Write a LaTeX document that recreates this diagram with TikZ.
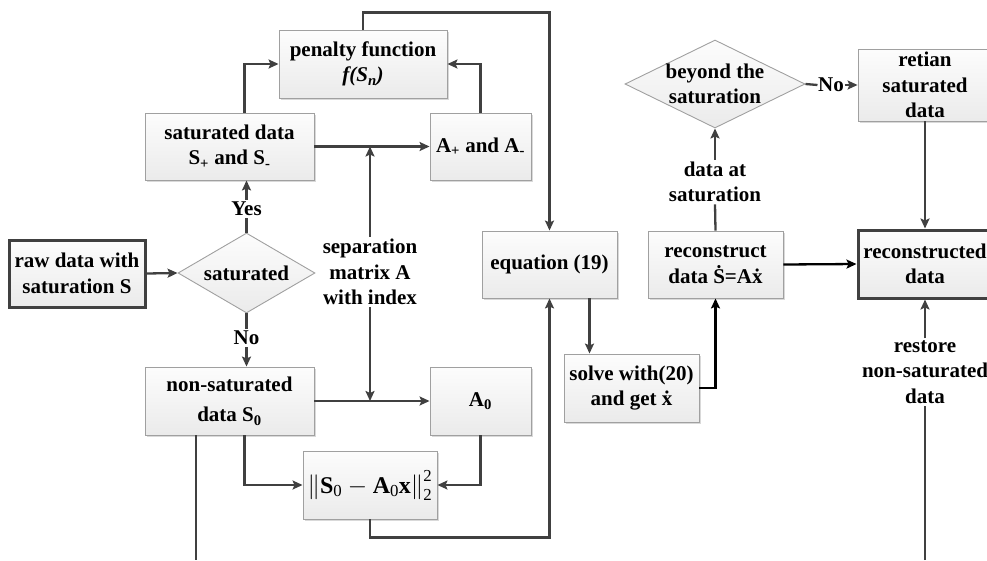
\documentclass[tikz,border=0pt]{standalone}
\usepackage{amsmath}
\usepackage{fontspec}
\setmainfont{Liberation Serif}
\usetikzlibrary{arrows.meta,shapes.geometric,shadows}
\definecolor{lc}{HTML}{404040}
\definecolor{bd}{HTML}{A0A0A0}
\tikzset{
  txt/.style={font=\bfseries\fontsize{21}{25.5}\selectfont, text=black, align=center},
  box/.style={txt, rectangle, draw=bd, line width=0.9pt, top color=gray!2, bottom color=gray!16,
    drop shadow={shadow xshift=1.5pt, shadow yshift=-1.5pt, fill=gray!50, opacity=0.6}, inner sep=2pt},
  tbox/.style={box, draw=lc, line width=3pt},
  dia/.style={diamond, draw=bd, line width=0.9pt, top color=gray!2, bottom color=gray!16, inner sep=0pt},
  lbl/.style={txt, inner sep=2pt},
  wire/.style={draw=lc, line width=2.3pt},
  con/.style={wire, -{Stealth[length=10pt,width=9pt,inset=2pt]}},
  bcon/.style={con, draw=black},
}
\begin{document}
\begin{tikzpicture}[x=1pt,y=-1pt]
\useasboundingbox (0,0) rectangle (987,560);
% boxes
\node[tbox, minimum width=136pt, minimum height=67pt] (raw) at (77,273.5) {raw data with\\saturation S};
\node[dia, minimum width=137pt, minimum height=80pt] (sat) at (246.5,273) {};
\node[txt] at (sat) {saturated};
\node[box, minimum width=169pt, minimum height=67pt] (satdata) at (229.5,146.5) {saturated data\\S\textsubscript{+} and S\textsubscript{-}};
\node[box, minimum width=168pt, minimum height=68pt] (pen) at (363,64) {penalty function\\\textit{f(S\textsubscript{n})}};
\node[box, minimum width=101pt, minimum height=67pt] (apm) at (480.5,146.5) {A\textsubscript{+} and A\textsubscript{-}};
\node[box, minimum width=169pt, minimum height=68pt] (nonsat) at (229.5,401) {non-saturated\\[5pt]data S\textsubscript{0}};
\node[box, minimum width=101pt, minimum height=68pt] (azero) at (480.5,401) {A\textsubscript{0}};
\node[box, minimum width=134pt, minimum height=68pt, font=\bfseries\fontsize{24}{28}\selectfont] (norm) at (370,485)
  {$\left\|\textbf{S}_{\text{\mdseries 0}}-\textbf{A}_{\text{\mdseries 0}}\textbf{x}\right\|_{\text{\mdseries 2}}^{\text{\mdseries 2}}$};
\node[box, minimum width=135pt, minimum height=67pt] (eq) at (549.5,264.5) {equation (19)};
\node[box, minimum width=135pt, minimum height=67pt] (recon) at (715.5,264.5) {reconstruct\\data \.{S}=A\.{x}};
\node[box, minimum width=135pt, minimum height=68pt] (solve) at (631.5,388) {solve with(20)\\and get \.{x}};
\node[dia, minimum width=180pt, minimum height=88pt] (bey) at (715,84) {};
\node[txt] at (bey) {beyond the\\saturation};
\node[box, minimum width=134pt, minimum height=72pt, inner sep=0pt] (ret) at (925,85) {retian\\saturated\\data};
\node[tbox, minimum width=134pt, minimum height=68pt] (rcd) at (925,264) {reconstructed\\data};
% labels
\node[lbl] (yes) at (246.5,209) {Yes};
\node[lbl] (no) at (246.5,338) {No};
\node[lbl] (sep) at (370,272) {separation\\matrix A\\with index};
\node[lbl] (das) at (715,182) {data at\\saturation};
\node[lbl, inner sep=0.5pt] (no2) at (831,85) {No};
\node[lbl] (rest) at (925,372) {restore\\non-saturated\\data};
\coordinate (bl) at (196,560);
\coordinate (br) at (925,560);
% connectors
\draw[con] (raw.east) -- (sat.west);
\draw[wire] (sat.north) -- (yes.south);
\draw[con] (yes.north) -- (yes.north |- satdata.south);
\draw[wire] (sat.south) -- (no.north);
\draw[con] (no.south) -- (no.south |- nonsat.north);
\draw[con] ([xshift=15pt]satdata.north) |- (pen.west);
\draw[con] (satdata.east) -- (apm.west);
\draw[con] (apm.north) |- (pen.east);
\draw[con] (sep.north) -- (sep.north |- satdata.east);
\draw[con] (sep.south) -- (sep.south |- nonsat.east);
\draw[con] (nonsat.east) -- (azero.west);
\draw[con] ([xshift=15pt]nonsat.south) |- (norm.west);
\draw[con] (azero.south) |- (norm.east);
\draw[con] (norm.south) -- ++(0,18) -| (eq.south);
\draw[con] (pen.north) -- ++(0,-17) -| (eq.north);
\draw[con] ([xshift=40pt]eq.south) -- ([xshift=40pt]eq.south |- solve.north);
\draw[bcon] (solve.east) -| (recon.south);
\draw[wire] (recon.north) -- (das.south);
\draw[con] (das.north) -- (bey.south);
\draw[wire] (bey.east) -- (no2.west);
\draw[con] (no2.east) -- (ret.west);
\draw[con] (ret.south) -- (rcd.north);
\draw[bcon] (recon.east) -- (rcd.west);
\draw[con] (rest.north) -- (rcd.south);
\draw[wire] (br) -- (rest.south);
\draw[wire] (bl |- nonsat.south) -- (bl);
\end{tikzpicture}
\end{document}
